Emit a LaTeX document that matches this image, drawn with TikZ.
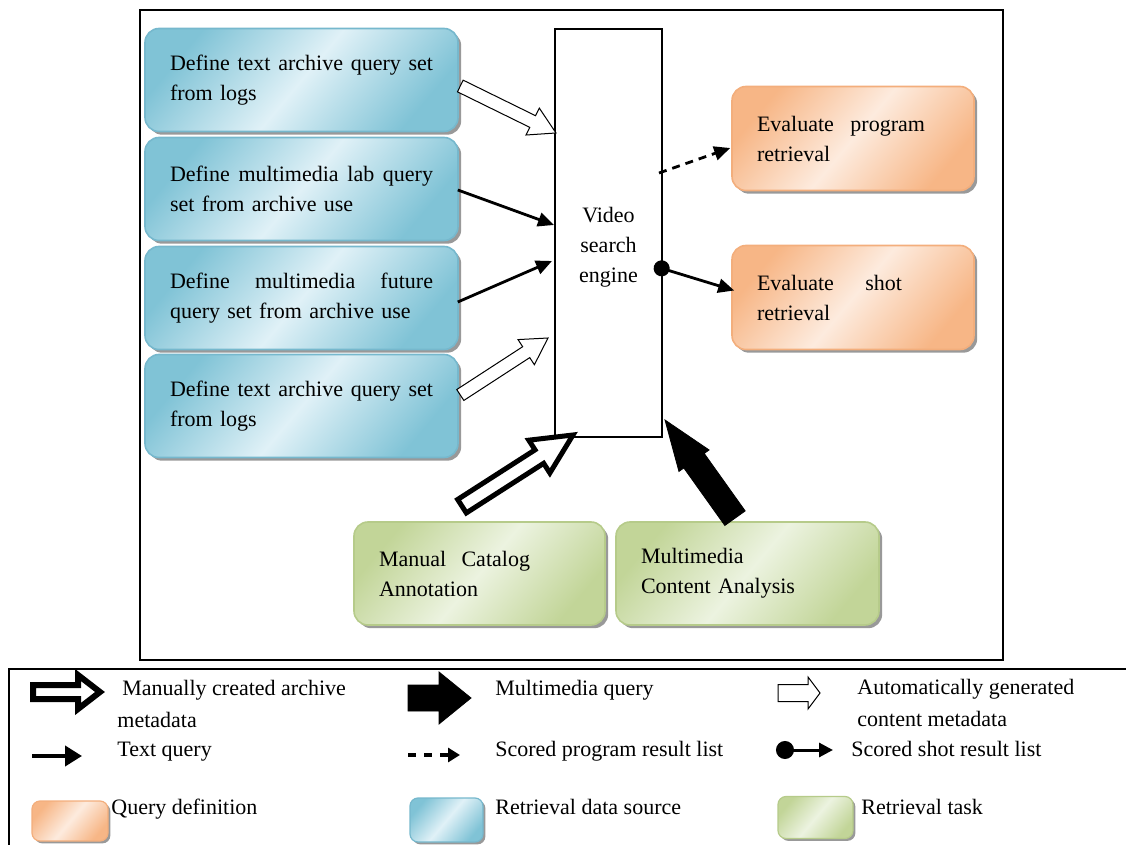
\documentclass[tikz,border=0pt]{standalone}
\usepackage{fontspec}
\setmainfont{Liberation Serif}
\usetikzlibrary{arrows.meta,calc,shadows}
\definecolor{srcdark}{RGB}{128,195,214}
\definecolor{srclight}{RGB}{224,241,247}
\definecolor{srcedge}{RGB}{118,184,205}
\definecolor{qdark}{RGB}{247,182,134}
\definecolor{qlight}{RGB}{253,235,222}
\definecolor{qedge}{RGB}{243,174,124}
\definecolor{taskdark}{RGB}{194,213,152}
\definecolor{tasklight}{RGB}{236,243,224}
\definecolor{taskedge}{RGB}{182,203,138}

\newcommand\boxfont{\fontsize{11}{15}\selectfont}
\newcommand\keyfont{\fontsize{11}{16}\selectfont}
% justified first line of a box
\newcommand\jline[2]{\makebox[#1][s]{\spaceskip=.25em plus 1fil\relax #2}}

% block arrow: style, tail, tip, half shaft, half head, head length
\newcommand\blockarrow[6]{%
  \coordinate (ba-h) at ($(#3)!#6!(#2)$);
  \draw[#1] ($(#2)!#4!90:(#3)$) -- ($(ba-h)!#4!90:(#3)$) -- ($(ba-h)!#5!90:(#3)$)
    -- (#3) -- ($(ba-h)!#5!-90:(#3)$) -- ($(ba-h)!#4!-90:(#3)$)
    -- ($(#2)!#4!-90:(#3)$) -- cycle;}

\tikzset{
  rbox/.style={rounded corners=7pt, line width=0.8pt, inner xsep=12.5pt, inner ysep=0pt,
    align=left, font=\boxfont,
    drop shadow={shadow xshift=1.6pt, shadow yshift=-1.6pt, fill=black!40, opacity=1}},
  srcfill/.style={draw=srcedge, left color=srcdark, right color=srcdark, middle color=srclight, shading angle=50},
  qfill/.style={draw=qedge, left color=qdark, right color=qdark, middle color=qlight, shading angle=50},
  taskfill/.style={draw=taskedge, left color=taskdark, right color=taskdark, middle color=tasklight, shading angle=50},
  srcbox/.style={rbox, srcfill, text width=131.5pt, minimum height=51.5pt},
  qbox/.style={rbox, qfill, text width=96pt, minimum height=52pt},
  taskbox/.style={rbox, taskfill, minimum height=51.5pt},
  swatch/.style={rounded corners=4pt, line width=0.6pt, inner sep=0pt,
    drop shadow={shadow xshift=1.2pt, shadow yshift=-1.2pt, fill=black!40, opacity=1}},
  keytext/.style={font=\keyfont, inner sep=0pt, anchor=base west, align=left},
  autoarrow/.style={draw=black, fill=white, line width=0.5pt},
  manarrow/.style={draw=black, fill=white, line width=2.5pt, line join=miter},
  mmarrow/.style={draw=black, fill=black, line width=0.4pt},
  txtarrow/.style={line width=1.4pt, -{Triangle[length=8pt,width=7pt]}},
  progarrow/.style={txtarrow, dash pattern=on 4pt off 3pt},
  shotarrow/.style={line width=1.4pt, {Circle[length=8pt]}-{Triangle[length=8pt,width=7pt]}}
}

\begin{document}
\begin{tikzpicture}[x=0.5pt,y=-0.5pt]
    \useasboundingbox (0,0) rectangle (1126,845);

    % frame round the diagram
    \draw[line width=1.2pt] (140,10) rectangle (1003,660);

    % retrieval data sources
    \node[srcbox] (src1) at (301.5,80) {\jline{131.5pt}{Define text archive query set}\\from logs};
    \node[srcbox] (src2) at (301.5,189) {\jline{131.5pt}{Define multimedia lab query}\\set from archive use};
    \node[srcbox] (src3) at (301.5,298) {\jline{131.5pt}{Define multimedia future}\\query set from archive use};
    \node[srcbox] (src4) at (301.5,406) {\jline{131.5pt}{Define text archive query set}\\from logs};

    % search engine
    \node[draw, line width=1pt, fill=white, minimum width=53.5pt, minimum height=204pt, inner sep=0pt] (engine) at (608.5,233) {};
    \node[font=\boxfont, align=center] (enginelbl) at ($(engine.center)+(0,14)$) {Video\\search\\engine};

    % query definitions
    \node[qbox] (prog) at (853,138.5) {\jline{84pt}{Evaluate program}\\retrieval};
    \node[qbox] (shot) at (853,297.5) {\jline{72.5pt}{Evaluate shot}\\retrieval};

    % retrieval tasks
    \node[taskbox, text width=100.5pt] (man) at (479.5,573.5) {\jline{75.5pt}{Manual Catalog}\\Annotation};
    \node[taskbox, text width=106.5pt] (mca) at (747.5,573.5) {Multimedia\\Content Analysis};

    % connectors
    \coordinate (a1t) at ($(src1.east)+(1.5,6)$);
    \coordinate (a1h) at ($(engine.west)+(2,-100)$);
    \blockarrow{autoarrow}{a1t}{a1h}{3.25pt}{7.5pt}{13pt}
    \coordinate (a2t) at ($(src4.east)+(1.5,-11)$);
    \coordinate (a2h) at ($(engine.west)+(-6,105)$);
    \blockarrow{autoarrow}{a2t}{a2h}{3.25pt}{7.5pt}{13pt}

    \draw[txtarrow] ($(src2.east)+(-1,1)$) -- ($(engine.west)+(0,-8)$);
    \draw[txtarrow] ($(src3.east)+(-1,4)$) -- ($(engine.west)+(-2,28)$);

    \draw[progarrow] ($(engine.east)+(-4,-60)$) -- ($(prog.west)+(-1,9.5)$);
    \draw[shotarrow] ($(engine.east)+(-9,33)$) -- ($(shot.west)+(3,-7)$);

    \coordinate (mant) at ($(man.north)+(-17.5,-15)$);
    \coordinate (manh) at ($(engine.south)+(-35.5,-3)$);
    \blockarrow{manarrow}{mant}{manh}{4pt}{9.75pt}{20pt}
    \coordinate (mmt) at ($(mca.north)+(-12.5,-3)$);
    \coordinate (mmh) at ($(engine.south east)+(2,-18)$);
    \blockarrow{mmarrow}{mmt}{mmh}{6.25pt}{9.25pt}{25pt}

    % legend
    \draw[line width=0.6pt] (1126,669) -- (9,669) -- (9,845);

    \coordinate (kmant) at (33,692);
    \coordinate (kmanh) at (100,692);
    \blockarrow{manarrow, line width=3pt}{kmant}{kmanh}{3.5pt}{8.5pt}{11pt}
    \node[keytext] (kman) at (117,727) {\hspace{2.5pt}Manually created archive\\metadata};

    \coordinate (kmmt) at (408,698);
    \coordinate (kmmh) at (471,698);
    \blockarrow{mmarrow}{kmmt}{kmmh}{6.5pt}{13pt}{16pt}
    \node[keytext] (kmm) at (495,695) {Multimedia query};

    \coordinate (kautot) at (778,693);
    \coordinate (kautoh) at (820,693);
    \blockarrow{autoarrow}{kautot}{kautoh}{4.25pt}{8pt}{6pt}
    \node[keytext] (kauto) at (857,726) {Automatically generated\\content metadata};

    \coordinate (ktxtt) at (32,756);
    \coordinate (ktxth) at (82,756);
    \draw[line width=2pt, -{Triangle[length=8.5pt,width=10pt]}] (ktxtt) -- (ktxth);
    \node[keytext] (ktxt) at (117,756) {Text query};

    \coordinate (kprogt) at (408,755);
    \coordinate (kprogh) at (460,755);
    \draw[line width=2pt, dash pattern=on 4pt off 4pt, -{Triangle[length=6pt,width=7pt]}] (kprogt) -- (kprogh);
    \node[keytext] (kprog) at (495,756) {Scored program result list};

    \coordinate (kshott) at (776,750);
    \coordinate (kshoth) at (833,750);
    \draw[line width=1.5pt, {Circle[length=9pt]}-{Triangle[length=7pt,width=7pt]}] (kshott) -- (kshoth);
    \node[keytext] (kshot) at (851,756) {Scored shot result list};

    \node[swatch, qfill, minimum width=38pt, minimum height=20pt] (kqsw) at (70,821) {};
    \node[keytext] (kq) at (111,814) {Query definition};
    \node[swatch, srcfill, minimum width=36.5pt, minimum height=22pt] (ksrcsw) at (446.5,820) {};
    \node[keytext] (ksrc) at (495,814) {Retrieval data source};
    \node[swatch, taskfill, minimum width=37.5pt, minimum height=21pt] (ktasksw) at (815.5,817.5) {};
    \node[keytext] (ktask) at (861,814) {Retrieval task};
\end{tikzpicture}
\end{document}
